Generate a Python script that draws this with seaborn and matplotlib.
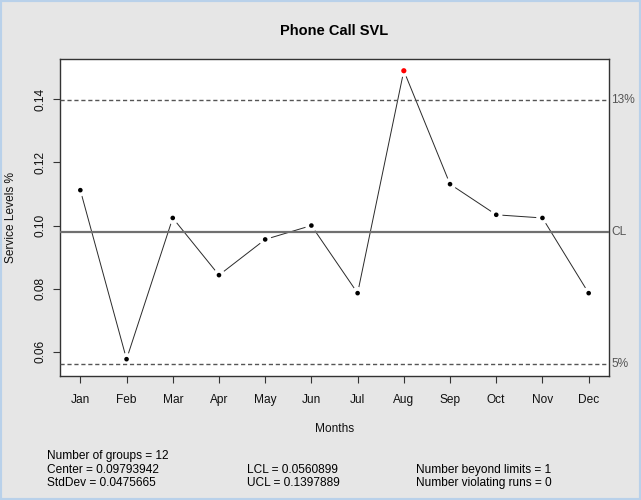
import matplotlib
matplotlib.use("Agg")
import matplotlib.pyplot as plt
import matplotlib.transforms as mtransforms
from matplotlib.patches import Rectangle
import seaborn as sns
import pandas as pd

months = ["Jan", "Feb", "Mar", "Apr", "May", "Jun", "Jul", "Aug", "Sep", "Oct", "Nov", "Dec"]
svl = [0.1112, 0.0577, 0.1024, 0.0843, 0.0956, 0.1000, 0.0786, 0.1490, 0.1131, 0.1034, 0.1024, 0.0786]
center = 0.09793942
lcl = 0.0560899
ucl = 0.1397889
stddev = 0.0475665
limit_labels = ["13%", "CL", "5%"]
stats_col1 = ["Number of groups = 12", "Center = 0.09793942", "StdDev = 0.0475665"]
stats_col2 = ["", "LCL = 0.0560899", "UCL = 0.1397889"]
stats_col3 = ["", "Number beyond limits = 1", "Number violating runs = 0"]

sns.set_theme(style="white")
plt.rcParams["font.family"] = ["Liberation Sans", "DejaVu Sans"]

df = pd.DataFrame({"idx": range(1, len(months) + 1), "svl": svl})
df["out"] = (df["svl"] > ucl) | (df["svl"] < lcl)

W, H = 641, 500
fig = plt.figure(figsize=(W / 100, H / 100), dpi=100, facecolor="#E6E6E6")
ax = fig.add_axes([60 / W, 1 - 376 / H, 549 / W, 317 / H])
ax.set_facecolor("white")

sns.lineplot(data=df, x="idx", y="svl", color="#2a2a2a", linewidth=0.7, ax=ax, zorder=2)
sns.scatterplot(data=df, x="idx", y="svl", s=80, color="white", edgecolor="none", ax=ax, zorder=3)
ax.axhline(center, color="#707070", linewidth=1.6, zorder=4)
ax.axhline(ucl, color="#555555", linewidth=1.0, linestyle=(0, (3, 2)), zorder=4)
ax.axhline(lcl, color="#555555", linewidth=1.0, linestyle=(0, (3, 2)), zorder=4)
sns.scatterplot(data=df[~df["out"]], x="idx", y="svl", s=11, color="black", edgecolor="none", ax=ax, zorder=5)
sns.scatterplot(data=df[df["out"]], x="idx", y="svl", s=14, color="red", edgecolor="none", ax=ax, zorder=5)

n = len(months)
ax.set_xlim(1 - 0.04 * (n - 1), n + 0.04 * (n - 1))
lo = min(min(svl), lcl)
hi = max(max(svl), ucl)
ax.set_ylim(lo - 0.04 * (hi - lo), hi + 0.04 * (hi - lo))

ax.set_xticks(range(1, n + 1))
ax.set_xticklabels(months)
ax.set_yticks([0.06, 0.08, 0.10, 0.12, 0.14])
ax.set_yticklabels(["0.06", "0.08", "0.10", "0.12", "0.14"], rotation=90, va="center")
ax.tick_params(axis="both", direction="out", length=5, width=0.8, color="#333333",
               labelsize=8.6, labelcolor="#111111", bottom=True, left=True)
ax.tick_params(axis="x", pad=8)
ax.tick_params(axis="y", pad=5)
for s in ax.spines.values():
    s.set_color("#333333")
    s.set_linewidth(1.0)

ax.set_xlabel("Months", fontsize=8.6, color="#111111", labelpad=12)
ax.set_ylabel("Service Levels %", fontsize=8.6, color="#111111", labelpad=12)
fig.text(334 / W, 1 - 31 / H, "Phone Call SVL", fontsize=10.5, fontweight="bold",
         ha="center", va="center", color="black")

trans = mtransforms.blended_transform_factory(ax.transAxes, ax.transData)
for lab, yv in zip(limit_labels, [ucl, center, lcl]):
    ax.text(1.004, yv, lab, transform=trans, fontsize=8.6, color="#555555",
            ha="left", va="center", clip_on=False)

ys = [456, 470, 483]
for col, x in zip([stats_col1, stats_col2, stats_col3], [47, 247, 416]):
    for t, y in zip(col, ys):
        if t:
            fig.text(x / W, 1 - y / H, t, fontsize=8.6, ha="left", va="center", color="black")

fig.add_artist(Rectangle((0, 0), 1, 1, transform=fig.transFigure, fill=False,
                         edgecolor="#B9D1EA", linewidth=3))

fig.savefig("out.png", dpi=100, facecolor=fig.get_facecolor())
